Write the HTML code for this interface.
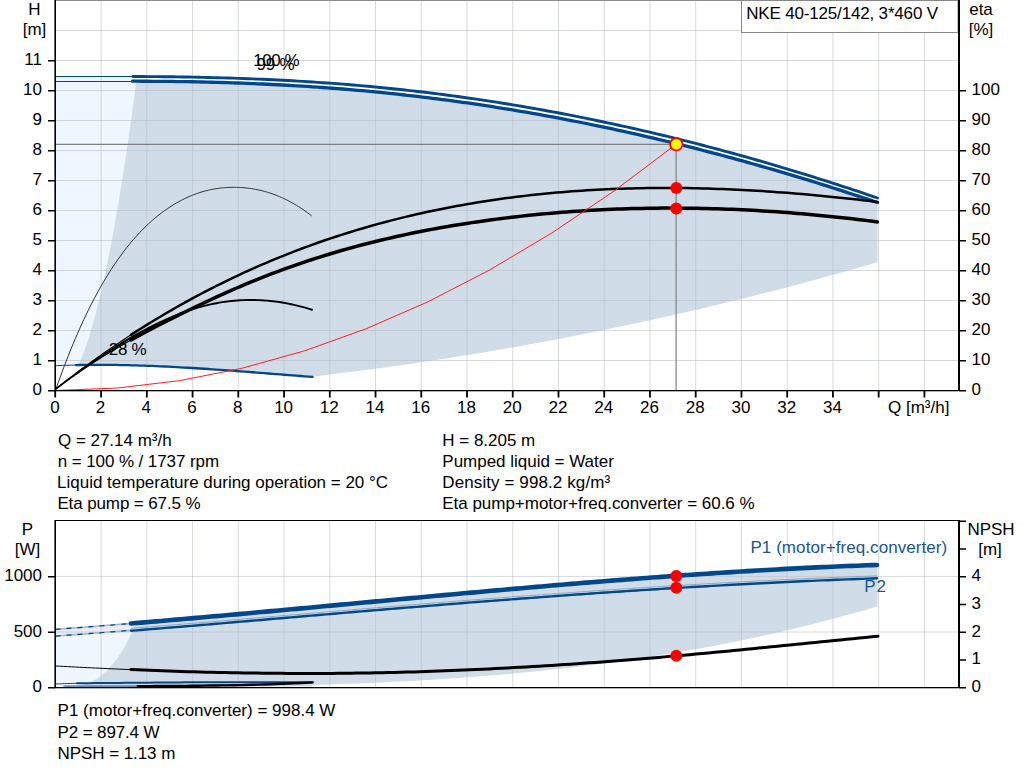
<!DOCTYPE html>
<html><head><meta charset="utf-8"><style>
html,body{margin:0;padding:0;background:#fff;width:1024px;height:781px;overflow:hidden}
svg{display:block}
.t{font-family:"Liberation Sans",sans-serif;font-size:17px;fill:#000}
</style></head><body>
<svg width="1024" height="781" viewBox="0 0 1024 781">
<path d="M55.50,77.08 L58.41,77.04 L61.33,77.00 L64.24,76.96 L67.16,76.92 L70.07,76.89 L72.98,76.85 L75.90,76.82 L78.81,76.79 L81.72,76.76 L84.64,76.73 L87.55,76.70 L90.47,76.68 L93.38,76.66 L96.29,76.64 L99.21,76.62 L102.12,76.60 L105.03,76.58 L107.95,76.57 L110.86,76.56 L113.78,76.55 L116.69,76.54 L119.60,76.54 L122.52,76.53 L125.43,76.53 L128.34,76.53 L131.26,76.54 L134.17,76.54 L137.09,76.55 L140.00,76.56 L140.00,365.53 L137.09,365.44 L134.17,365.36 L131.26,365.28 L128.34,365.21 L125.43,365.14 L122.52,365.08 L119.60,365.03 L116.69,364.98 L113.78,364.94 L110.86,364.91 L107.95,364.88 L105.03,364.86 L102.12,364.85 L99.21,364.84 L96.29,364.84 L93.38,364.85 L90.47,364.87 L87.55,364.90 L84.64,364.93 L81.72,364.97 L78.81,365.02 L75.90,365.08 L72.98,365.14 L70.07,365.21 L67.16,365.30 L64.24,365.39 L61.33,365.49 L58.41,365.60 L55.50,365.71Z" fill="#eff6ff"/>
<path d="M78.33,365.60 L81.48,358.32 L84.28,351.03 L86.84,343.75 L89.20,336.46 L91.41,329.18 L93.50,321.89 L95.47,314.61 L97.35,307.32 L99.15,300.04 L100.88,292.75 L102.55,285.47 L104.16,278.18 L105.72,270.90 L107.23,263.62 L108.70,256.33 L110.12,249.05 L111.52,241.76 L112.88,234.48 L114.20,227.19 L115.50,219.91 L116.77,212.62 L118.02,205.34 L119.24,198.05 L120.44,190.77 L121.61,183.48 L122.77,176.20 L123.91,168.92 L125.02,161.63 L126.12,154.35 L127.21,147.06 L128.27,139.78 L129.33,132.49 L130.36,125.21 L131.39,117.92 L132.39,110.64 L133.39,103.35 L134.37,96.07 L135.35,88.78 L136.31,81.50 L136.31,81.22 L142.53,81.23 L148.76,81.26 L154.99,81.29 L161.22,81.34 L167.45,81.40 L173.68,81.48 L179.91,81.56 L186.13,81.66 L192.36,81.77 L198.59,81.90 L204.82,82.04 L211.05,82.19 L217.28,82.35 L223.51,82.54 L229.73,82.73 L235.96,82.94 L242.19,83.17 L248.42,83.41 L254.65,83.66 L260.88,83.93 L267.10,84.22 L273.33,84.52 L279.56,84.84 L285.79,85.17 L292.02,85.52 L298.25,85.89 L304.48,86.28 L310.70,86.68 L316.93,87.10 L323.16,87.54 L329.39,87.99 L335.62,88.47 L341.85,88.96 L348.08,89.47 L354.30,90.00 L360.53,90.54 L366.76,91.11 L372.99,91.69 L379.22,92.30 L385.45,92.93 L391.68,93.57 L397.90,94.23 L404.13,94.92 L410.36,95.62 L416.59,96.35 L422.82,97.09 L429.05,97.85 L435.27,98.63 L441.50,99.43 L447.73,100.26 L453.96,101.10 L460.19,101.96 L466.42,102.84 L472.65,103.73 L478.87,104.65 L485.10,105.59 L491.33,106.55 L497.56,107.52 L503.79,108.52 L510.02,109.53 L516.25,110.57 L522.47,111.62 L528.70,112.69 L534.93,113.78 L541.16,114.89 L547.39,116.02 L553.62,117.17 L559.85,118.34 L566.07,119.53 L572.30,120.73 L578.53,121.96 L584.76,123.20 L590.99,124.46 L597.22,125.74 L603.45,127.04 L609.67,128.36 L615.90,129.70 L622.13,131.06 L628.36,132.43 L634.59,133.83 L640.82,135.24 L647.04,136.67 L653.27,138.12 L659.50,139.59 L665.73,141.08 L671.96,142.58 L678.19,144.11 L684.42,145.65 L690.64,147.21 L696.87,148.79 L703.10,150.39 L709.33,152.01 L715.56,153.64 L721.79,155.30 L728.02,156.97 L734.24,158.66 L740.47,160.37 L746.70,162.09 L752.93,163.84 L759.16,165.60 L765.39,167.38 L771.62,169.18 L777.84,171.00 L784.07,172.84 L790.30,174.69 L796.53,176.57 L802.76,178.46 L808.99,180.36 L815.21,182.29 L821.44,184.23 L827.67,186.20 L833.90,188.18 L840.13,190.18 L846.36,192.19 L852.59,194.23 L858.81,196.28 L865.04,198.35 L871.27,200.43 L877.50,202.54 L877.50,202.54 L877.50,262.36 L877.50,262.36 L867.92,265.12 L858.35,267.85 L848.77,270.55 L839.19,273.22 L829.62,275.87 L820.04,278.48 L810.47,281.07 L800.89,283.63 L791.31,286.16 L781.74,288.66 L772.16,291.14 L762.58,293.58 L753.01,296.00 L743.43,298.39 L733.86,300.75 L724.28,303.08 L714.70,305.39 L705.13,307.66 L695.55,309.91 L685.97,312.13 L676.40,314.32 L666.82,316.48 L657.25,318.61 L647.67,320.72 L638.09,322.80 L628.52,324.85 L618.94,326.87 L609.36,328.86 L599.79,330.82 L590.21,332.76 L580.64,334.66 L571.06,336.54 L561.48,338.39 L551.91,340.21 L542.33,342.01 L532.75,343.77 L523.18,345.51 L513.60,347.22 L504.03,348.89 L494.45,350.55 L484.87,352.17 L475.30,353.76 L465.72,355.33 L456.14,356.87 L446.57,358.38 L436.99,359.86 L427.42,361.31 L417.84,362.73 L408.26,364.13 L398.69,365.50 L389.11,366.84 L379.53,368.15 L369.96,369.43 L360.38,370.68 L350.81,371.91 L341.23,373.11 L331.65,374.28 L322.08,375.42 L312.50,376.53 L312.50,376.95 L306.50,376.49 L300.49,376.02 L294.49,375.55 L288.48,375.07 L282.48,374.60 L276.47,374.12 L270.47,373.65 L264.47,373.17 L258.46,372.70 L252.46,372.24 L246.45,371.77 L240.45,371.32 L234.44,370.87 L228.44,370.43 L222.44,370.00 L216.43,369.58 L210.43,369.17 L204.42,368.77 L198.42,368.38 L192.41,368.01 L186.41,367.66 L180.40,367.32 L174.40,366.99 L168.40,366.69 L162.39,366.40 L156.39,366.14 L150.38,365.90 L144.38,365.68 L138.37,365.48 L132.37,365.31 L126.37,365.16 L120.36,365.04 L114.36,364.95 L108.35,364.88 L102.35,364.85 L96.34,364.84 L90.34,364.87 L84.34,364.93 L78.33,365.03Z" fill="#d0dce8"/>
<path d="M55,360.5H958 M55,330.5H958 M55,300.5H958 M55,270.5H958 M55,240.5H958 M55,210.5H958 M55,180.5H958 M55,150.5H958 M55,120.5H958 M55,90.5H958 M55,60.5H958 M55,30.5H741 M101.09,0V390 M146.83,0V390 M192.57,0V390 M238.31,0V390 M284.05,0V390 M329.79,0V390 M375.53,0V390 M421.27,0V390 M467.01,0V390 M512.75,0V390 M558.49,0V390 M604.23,0V390 M649.97,0V390 M695.71,0V390 M741.45,33V390 M787.19,33V390 M832.93,33V390 M878.67,33V390 M924.41,33V390" stroke="rgba(185,192,200,0.6)" stroke-width="1" fill="none"/>
<path d="M55,0.5H958" stroke="#8c8c8c" stroke-width="1"/>
<rect x="741.5" y="0.5" width="216.5" height="32" fill="#fff" stroke="#888" stroke-width="1"/>
<text x="746.21" y="18.5" class="t" textLength="191.87" lengthAdjust="spacing">NKE 40-125/142, 3*460 V</text>
<path d="M55,144.3H676.1V390" stroke="#808080" stroke-width="1.2" fill="none"/>
<path d="M55.5,76.5H133" stroke="#03478b" stroke-width="1" fill="none"/>
<path d="M55.5,81.5H132" stroke="#03478b" stroke-width="1" fill="none"/>
<path d="M133.00,76.54 L138.00,76.55 L142.99,76.57 L147.99,76.60 L152.99,76.63 L157.98,76.67 L162.98,76.71 L167.98,76.76 L172.97,76.82 L177.97,76.89 L182.97,76.97 L187.96,77.05 L192.96,77.14 L197.96,77.24 L202.95,77.35 L207.95,77.46 L212.95,77.59 L217.94,77.72 L222.94,77.86 L227.94,78.01 L232.93,78.16 L237.93,78.33 L242.93,78.51 L247.92,78.69 L252.92,78.89 L257.92,79.09 L262.91,79.31 L267.91,79.53 L272.91,79.76 L277.90,80.01 L282.90,80.26 L287.90,80.53 L292.89,80.80 L297.89,81.09 L302.89,81.38 L307.88,81.69 L312.88,82.01 L317.88,82.34 L322.87,82.68 L327.87,83.03 L332.87,83.40 L337.86,83.77 L342.86,84.16 L347.86,84.56 L352.85,84.97 L357.85,85.39 L362.85,85.83 L367.84,86.28 L372.84,86.74 L377.84,87.21 L382.83,87.70 L387.83,88.20 L392.83,88.71 L397.82,89.24 L402.82,89.77 L407.82,90.33 L412.81,90.89 L417.81,91.47 L422.81,92.06 L427.80,92.66 L432.80,93.27 L437.80,93.90 L442.79,94.54 L447.79,95.20 L452.79,95.86 L457.78,96.54 L462.78,97.24 L467.78,97.94 L472.77,98.66 L477.77,99.39 L482.77,100.13 L487.76,100.89 L492.76,101.66 L497.76,102.44 L502.75,103.23 L507.75,104.04 L512.74,104.86 L517.74,105.69 L522.74,106.53 L527.73,107.39 L532.73,108.26 L537.73,109.14 L542.72,110.04 L547.72,110.95 L552.72,111.87 L557.71,112.80 L562.71,113.74 L567.71,114.70 L572.70,115.67 L577.70,116.65 L582.70,117.65 L587.69,118.66 L592.69,119.68 L597.69,120.71 L602.68,121.75 L607.68,122.81 L612.68,123.88 L617.67,124.96 L622.67,126.06 L627.67,127.16 L632.66,128.28 L637.66,129.41 L642.66,130.56 L647.65,131.71 L652.65,132.88 L657.65,134.06 L662.64,135.26 L667.64,136.46 L672.64,137.68 L677.63,138.91 L682.63,140.15 L687.63,141.40 L692.62,142.67 L697.62,143.95 L702.62,145.24 L707.61,146.54 L712.61,147.86 L717.61,149.19 L722.60,150.53 L727.60,151.88 L732.60,153.24 L737.59,154.62 L742.59,156.00 L747.59,157.40 L752.58,158.82 L757.58,160.24 L762.58,161.68 L767.57,163.12 L772.57,164.58 L777.57,166.06 L782.56,167.54 L787.56,169.04 L792.56,170.55 L797.55,172.07 L802.55,173.60 L807.55,175.14 L812.54,176.70 L817.54,178.27 L822.54,179.85 L827.53,181.44 L832.53,183.04 L837.53,184.66 L842.52,186.28 L847.52,187.92 L852.52,189.57 L857.51,191.24 L862.51,192.91 L867.51,194.60 L872.50,196.29 L877.50,198.00" stroke="#03478b" stroke-width="2.9" fill="none" stroke-linecap="round"/>
<path d="M132.50,81.22 L137.50,81.22 L142.50,81.23 L147.50,81.25 L152.50,81.28 L157.50,81.31 L162.50,81.35 L167.50,81.40 L172.50,81.46 L177.50,81.53 L182.50,81.60 L187.50,81.68 L192.50,81.77 L197.50,81.87 L202.50,81.98 L207.50,82.10 L212.50,82.23 L217.50,82.36 L222.50,82.51 L227.50,82.66 L232.50,82.82 L237.50,82.99 L242.50,83.18 L247.50,83.37 L252.50,83.57 L257.50,83.78 L262.50,84.00 L267.50,84.24 L272.50,84.48 L277.50,84.73 L282.50,84.99 L287.50,85.27 L292.50,85.55 L297.50,85.85 L302.50,86.15 L307.50,86.47 L312.50,86.80 L317.50,87.14 L322.50,87.49 L327.50,87.85 L332.50,88.23 L337.50,88.61 L342.50,89.01 L347.50,89.42 L352.50,89.84 L357.50,90.27 L362.50,90.72 L367.50,91.18 L372.50,91.65 L377.50,92.13 L382.50,92.63 L387.50,93.14 L392.50,93.66 L397.50,94.19 L402.50,94.74 L407.50,95.30 L412.50,95.87 L417.50,96.45 L422.50,97.05 L427.50,97.66 L432.50,98.28 L437.50,98.92 L442.50,99.56 L447.50,100.22 L452.50,100.90 L457.50,101.58 L462.50,102.28 L467.50,102.99 L472.50,103.71 L477.50,104.45 L482.50,105.20 L487.50,105.96 L492.50,106.73 L497.50,107.51 L502.50,108.31 L507.50,109.12 L512.50,109.94 L517.50,110.78 L522.50,111.62 L527.50,112.48 L532.50,113.35 L537.50,114.24 L542.50,115.13 L547.50,116.04 L552.50,116.96 L557.50,117.90 L562.50,118.84 L567.50,119.80 L572.50,120.77 L577.50,121.75 L582.50,122.75 L587.50,123.75 L592.50,124.77 L597.50,125.80 L602.50,126.84 L607.50,127.90 L612.50,128.97 L617.50,130.05 L622.50,131.14 L627.50,132.24 L632.50,133.36 L637.50,134.48 L642.50,135.62 L647.50,136.78 L652.50,137.94 L657.50,139.11 L662.50,140.30 L667.50,141.50 L672.50,142.71 L677.50,143.94 L682.50,145.17 L687.50,146.42 L692.50,147.68 L697.50,148.95 L702.50,150.23 L707.50,151.53 L712.50,152.84 L717.50,154.16 L722.50,155.49 L727.50,156.83 L732.50,158.18 L737.50,159.55 L742.50,160.93 L747.50,162.32 L752.50,163.72 L757.50,165.13 L762.50,166.56 L767.50,167.99 L772.50,169.44 L777.50,170.90 L782.50,172.37 L787.50,173.86 L792.50,175.35 L797.50,176.86 L802.50,178.38 L807.50,179.91 L812.50,181.45 L817.50,183.00 L822.50,184.57 L827.50,186.14 L832.50,187.73 L837.50,189.33 L842.50,190.94 L847.50,192.56 L852.50,194.20 L857.50,195.84 L862.50,197.50 L867.50,199.17 L872.50,200.85 L877.50,202.54" stroke="#03478b" stroke-width="3.3" fill="none" stroke-linecap="round"/>
<path d="M55.50,365.71 L57.78,365.62 L60.06,365.53 L62.33,365.45 L64.61,365.38 L66.89,365.30 L69.17,365.24 L71.44,365.18 L73.72,365.12 L76.00,365.07" stroke="#03478b" stroke-width="1" fill="none"/>
<path d="M76.00,365.07 L80.01,365.00 L84.02,364.94 L88.03,364.89 L92.03,364.86 L96.04,364.85 L100.05,364.84 L104.06,364.86 L108.07,364.88 L112.08,364.92 L116.08,364.97 L120.09,365.04 L124.10,365.11 L128.11,365.20 L132.12,365.30 L136.13,365.41 L140.14,365.54 L144.14,365.67 L148.15,365.81 L152.16,365.97 L156.17,366.13 L160.18,366.31 L164.19,366.49 L168.19,366.68 L172.20,366.88 L176.21,367.09 L180.22,367.31 L184.23,367.53 L188.24,367.76 L192.25,368.00 L196.25,368.25 L200.26,368.50 L204.27,368.76 L208.28,369.02 L212.29,369.29 L216.30,369.57 L220.31,369.85 L224.31,370.13 L228.32,370.42 L232.33,370.71 L236.34,371.01 L240.35,371.31 L244.36,371.61 L248.36,371.92 L252.37,372.23 L256.38,372.54 L260.39,372.85 L264.40,373.17 L268.41,373.48 L272.42,373.80 L276.42,374.12 L280.43,374.43 L284.44,374.75 L288.45,375.07 L292.46,375.39 L296.47,375.70 L300.47,376.02 L304.48,376.33 L308.49,376.64 L312.50,376.95" stroke="#03478b" stroke-width="2.3" fill="none" stroke-linecap="round"/>
<path d="M56.00,389.00 L58.15,382.88 L60.30,376.89 L62.44,371.04 L64.59,365.32 L66.74,359.73 L68.89,354.26 L71.04,348.92 L73.18,343.70 L75.33,338.60 L77.48,333.62 L79.63,328.76 L81.77,324.01 L83.92,319.37 L86.07,314.85 L88.22,310.43 L90.37,306.12 L92.51,301.91 L94.66,297.81 L96.81,293.81 L98.96,289.90 L101.11,286.10 L103.25,282.39 L105.40,278.77 L107.55,275.24 L109.70,271.80 L111.85,268.46 L113.99,265.20 L116.14,262.03 L118.29,258.94 L120.44,255.94 L122.58,253.02 L124.73,250.19 L126.88,247.43 L129.03,244.75 L131.18,242.15 L133.32,239.62 L135.47,237.17 L137.62,234.80 L139.77,232.49 L141.92,230.26 L144.06,228.09 L146.21,225.99 L148.36,223.96 L150.51,222.00 L152.66,220.09 L154.80,218.26 L156.95,216.48 L159.10,214.76 L161.25,213.10 L163.39,211.50 L165.54,209.95 L167.69,208.46 L169.84,207.03 L171.99,205.65 L174.13,204.33 L176.28,203.06 L178.43,201.85 L180.58,200.68 L182.73,199.58 L184.87,198.52 L187.02,197.51 L189.17,196.56 L191.32,195.66 L193.47,194.80 L195.61,194.00 L197.76,193.24 L199.91,192.53 L202.06,191.87 L204.21,191.26 L206.35,190.69 L208.50,190.17 L210.65,189.70 L212.80,189.27 L214.94,188.88 L217.09,188.54 L219.24,188.24 L221.39,187.98 L223.54,187.77 L225.68,187.60 L227.83,187.46 L229.98,187.37 L232.13,187.32 L234.28,187.31 L236.42,187.34 L238.57,187.40 L240.72,187.51 L242.87,187.65 L245.02,187.83 L247.16,188.05 L249.31,188.32 L251.46,188.62 L253.61,188.97 L255.75,189.36 L257.90,189.79 L260.05,190.26 L262.20,190.78 L264.35,191.34 L266.49,191.95 L268.64,192.60 L270.79,193.30 L272.94,194.04 L275.09,194.83 L277.23,195.67 L279.38,196.55 L281.53,197.48 L283.68,198.46 L285.83,199.49 L287.97,200.57 L290.12,201.70 L292.27,202.88 L294.42,204.11 L296.56,205.39 L298.71,206.73 L300.86,208.11 L303.01,209.55 L305.16,211.05 L307.30,212.59 L309.45,214.19 L311.60,215.85" stroke="#333" stroke-width="1" fill="none"/>
<path d="M55.50,388.94 L58.10,386.90 L60.71,384.86 L63.31,382.85 L65.91,380.84 L68.52,378.85 L71.12,376.87 L73.72,374.90 L76.33,372.95 L78.93,371.01 L81.53,369.08 L84.14,367.16 L86.74,365.26 L89.34,363.37 L91.95,361.49 L94.55,359.63 L97.16,357.78 L99.76,355.94 L102.36,354.11 L104.97,352.30 L107.57,350.50 L110.17,348.71 L112.78,346.94 L115.38,345.17 L117.98,343.42 L120.59,341.68 L123.19,339.96 L125.79,338.24 L128.40,336.54 L131.00,334.85" stroke="#000" stroke-width="1.2" fill="none"/>
<path d="M55.50,389.48 L58.10,387.47 L60.71,385.49 L63.31,383.53 L65.91,381.59 L68.52,379.68 L71.12,377.79 L73.72,375.93 L76.33,374.08 L78.93,372.27 L81.53,370.47 L84.14,368.69 L86.74,366.94 L89.34,365.21 L91.95,363.50 L94.55,361.80 L97.16,360.13 L99.76,358.48 L102.36,356.84 L104.97,355.22 L107.57,353.62 L110.17,352.04 L112.78,350.48 L115.38,348.93 L117.98,347.39 L120.59,345.88 L123.19,344.37 L125.79,342.89 L128.40,341.41 L131.00,339.95" stroke="#000" stroke-width="1.2" fill="none"/>
<path d="M55.50,389.09 L57.78,387.37 L60.06,385.65 L62.33,383.93 L64.61,382.23 L66.89,380.54 L69.17,378.86 L71.44,377.18 L73.72,375.52 L76.00,373.86" stroke="#000" stroke-width="1.2" fill="none"/>
<path d="M76.00,373.86 L78.99,371.71 L81.97,369.57 L84.96,367.46 L87.95,365.36 L90.94,363.28 L93.92,361.23 L96.91,359.19 L99.90,357.18 L102.89,355.19 L105.87,353.22 L108.86,351.28 L111.85,349.36 L114.84,347.46 L117.82,345.59 L120.81,343.74 L123.80,341.93 L126.78,340.13 L129.77,338.37 L132.76,336.63 L135.75,334.92 L138.73,333.25 L141.72,331.60 L144.71,329.98 L147.70,328.40 L150.68,326.85 L153.67,325.34 L156.66,323.86 L159.65,322.41 L162.63,321.01 L165.62,319.64 L168.61,318.32 L171.59,317.03 L174.58,315.78 L177.57,314.58 L180.56,313.42 L183.54,312.31 L186.53,311.24 L189.52,310.22 L192.51,309.24 L195.49,308.31 L198.48,307.44 L201.47,306.61 L204.46,305.83 L207.44,305.10 L210.43,304.42 L213.42,303.78 L216.41,303.20 L219.39,302.67 L222.38,302.18 L225.37,301.74 L228.35,301.35 L231.34,301.01 L234.33,300.72 L237.32,300.48 L240.30,300.28 L243.29,300.13 L246.28,300.03 L249.27,299.98 L252.25,299.97 L255.24,300.02 L258.23,300.11 L261.22,300.25 L264.20,300.43 L267.19,300.66 L270.18,300.94 L273.16,301.27 L276.15,301.64 L279.14,302.06 L282.13,302.53 L285.11,303.05 L288.10,303.61 L291.09,304.21 L294.08,304.87 L297.06,305.57 L300.05,306.31 L303.04,307.11 L306.03,307.95 L309.01,308.83 L312.00,309.76" stroke="#000" stroke-width="1.9" fill="none" stroke-linecap="round"/>
<path d="M131.00,334.85 L136.01,331.63 L141.02,328.46 L146.03,325.33 L151.04,322.24 L156.05,319.20 L161.06,316.20 L166.07,313.25 L171.08,310.34 L176.09,307.47 L181.10,304.64 L186.11,301.86 L191.12,299.11 L196.13,296.41 L201.14,293.75 L206.15,291.13 L211.16,288.55 L216.17,286.01 L221.18,283.52 L226.19,281.06 L231.20,278.64 L236.21,276.26 L241.22,273.92 L246.23,271.61 L251.24,269.35 L256.25,267.12 L261.26,264.94 L266.27,262.79 L271.28,260.67 L276.29,258.60 L281.30,256.56 L286.31,254.55 L291.32,252.59 L296.33,250.65 L301.34,248.76 L306.35,246.90 L311.36,245.07 L316.37,243.28 L321.38,241.52 L326.39,239.80 L331.40,238.11 L336.41,236.46 L341.42,234.84 L346.43,233.25 L351.44,231.69 L356.45,230.17 L361.46,228.68 L366.47,227.22 L371.48,225.79 L376.49,224.39 L381.50,223.02 L386.51,221.69 L391.52,220.38 L396.53,219.11 L401.54,217.86 L406.55,216.65 L411.56,215.46 L416.57,214.31 L421.58,213.18 L426.59,212.08 L431.60,211.00 L436.61,209.96 L441.62,208.94 L446.63,207.96 L451.64,206.99 L456.65,206.06 L461.66,205.15 L466.67,204.27 L471.68,203.41 L476.69,202.58 L481.70,201.77 L486.71,200.99 L491.72,200.23 L496.73,199.50 L501.74,198.80 L506.76,198.11 L511.77,197.45 L516.78,196.82 L521.79,196.21 L526.80,195.62 L531.81,195.06 L536.82,194.51 L541.83,194.00 L546.84,193.50 L551.85,193.03 L556.86,192.58 L561.87,192.15 L566.88,191.74 L571.89,191.36 L576.90,190.99 L581.91,190.65 L586.92,190.33 L591.93,190.03 L596.94,189.75 L601.95,189.50 L606.96,189.26 L611.97,189.04 L616.98,188.85 L621.99,188.67 L627.00,188.51 L632.01,188.38 L637.02,188.26 L642.03,188.16 L647.04,188.08 L652.05,188.02 L657.06,187.98 L662.07,187.96 L667.08,187.95 L672.09,187.97 L677.10,188.00 L682.11,188.05 L687.12,188.11 L692.13,188.20 L697.14,188.30 L702.15,188.42 L707.16,188.55 L712.17,188.71 L717.18,188.88 L722.19,189.06 L727.20,189.26 L732.21,189.48 L737.22,189.71 L742.23,189.96 L747.24,190.23 L752.25,190.51 L757.26,190.80 L762.27,191.11 L767.28,191.43 L772.29,191.77 L777.30,192.13 L782.31,192.49 L787.32,192.87 L792.33,193.27 L797.34,193.68 L802.35,194.10 L807.36,194.54 L812.37,194.98 L817.38,195.44 L822.39,195.92 L827.40,196.40 L832.41,196.90 L837.42,197.41 L842.43,197.94 L847.44,198.47 L852.45,199.02 L857.46,199.57 L862.47,200.14 L867.48,200.72 L872.49,201.31 L877.50,201.91" stroke="#000" stroke-width="2.5" fill="none" stroke-linecap="round"/>
<path d="M131.00,339.95 L136.01,337.18 L141.02,334.45 L146.03,331.77 L151.04,329.12 L156.05,326.52 L161.06,323.94 L166.07,321.40 L171.08,318.88 L176.09,316.38 L181.10,313.91 L186.11,311.45 L191.12,309.02 L196.13,306.61 L201.14,304.21 L206.15,301.85 L211.16,299.51 L216.17,297.19 L221.18,294.91 L226.19,292.65 L231.20,290.43 L236.21,288.24 L241.22,286.08 L246.23,283.96 L251.24,281.88 L256.25,279.83 L261.26,277.82 L266.27,275.85 L271.28,273.92 L276.29,272.03 L281.30,270.17 L286.31,268.34 L291.32,266.56 L296.33,264.80 L301.34,263.08 L306.35,261.40 L311.36,259.75 L316.37,258.14 L321.38,256.55 L326.39,255.00 L331.40,253.49 L336.41,252.00 L341.42,250.55 L346.43,249.13 L351.44,247.74 L356.45,246.38 L361.46,245.05 L366.47,243.75 L371.48,242.48 L376.49,241.23 L381.50,240.02 L386.51,238.84 L391.52,237.68 L396.53,236.55 L401.54,235.45 L406.55,234.37 L411.56,233.32 L416.57,232.30 L421.58,231.30 L426.59,230.33 L431.60,229.38 L436.61,228.45 L441.62,227.55 L446.63,226.68 L451.64,225.83 L456.65,225.00 L461.66,224.19 L466.67,223.40 L471.68,222.64 L476.69,221.90 L481.70,221.17 L486.71,220.47 L491.72,219.79 L496.73,219.13 L501.74,218.49 L506.76,217.87 L511.77,217.27 L516.78,216.69 L521.79,216.13 L526.80,215.59 L531.81,215.06 L536.82,214.56 L541.83,214.08 L546.84,213.62 L551.85,213.17 L556.86,212.75 L561.87,212.34 L566.88,211.95 L571.89,211.59 L576.90,211.24 L581.91,210.91 L586.92,210.60 L591.93,210.30 L596.94,210.03 L601.95,209.77 L606.96,209.54 L611.97,209.32 L616.98,209.12 L621.99,208.93 L627.00,208.77 L632.01,208.62 L637.02,208.50 L642.03,208.39 L647.04,208.29 L652.05,208.22 L657.06,208.16 L662.07,208.12 L667.08,208.10 L672.09,208.09 L677.10,208.11 L682.11,208.14 L687.12,208.18 L692.13,208.25 L697.14,208.33 L702.15,208.42 L707.16,208.54 L712.17,208.67 L717.18,208.82 L722.19,208.98 L727.20,209.16 L732.21,209.36 L737.22,209.58 L742.23,209.81 L747.24,210.05 L752.25,210.32 L757.26,210.59 L762.27,210.89 L767.28,211.20 L772.29,211.53 L777.30,211.87 L782.31,212.23 L787.32,212.60 L792.33,212.99 L797.34,213.39 L802.35,213.81 L807.36,214.25 L812.37,214.70 L817.38,215.16 L822.39,215.64 L827.40,216.14 L832.41,216.65 L837.42,217.17 L842.43,217.71 L847.44,218.27 L852.45,218.84 L857.46,219.42 L862.47,220.02 L867.48,220.63 L872.49,221.25 L877.50,221.89" stroke="#000" stroke-width="3.5" fill="none" stroke-linecap="round"/>
<path d="M55.35,390.50 L117.42,388.04 L179.49,380.65 L241.56,368.35 L303.63,351.11 L365.70,328.96 L427.77,301.88 L489.83,269.88 L551.90,232.95 L613.97,191.11 L676.04,144.34" stroke="#ff2020" stroke-width="1" fill="none"/>
<text x="253.21" y="65.6" class="t" textLength="46.40" lengthAdjust="spacing">100 %</text>
<text x="256.60" y="70.4" class="t" textLength="38.00" lengthAdjust="spacing">99 %</text>
<text x="108.85" y="354.8" class="t" textLength="37.66" lengthAdjust="spacing">28 %</text>
<circle cx="676.3" cy="144.2" r="6.2" fill="#ffff00" stroke="#ff0000" stroke-width="1.8"/>
<circle cx="676.3" cy="187.9" r="6" fill="#ff0000"/>
<circle cx="676.3" cy="208.4" r="6" fill="#ff0000"/>
<rect x="54.4" y="0" width="1.6" height="391.3" fill="#000"/>
<rect x="54.4" y="390" width="904" height="1.3" fill="#000"/>
<rect x="958" y="0" width="2" height="391" fill="#000"/>
<path d="M48,390.8H55 M48,360.8H55 M48,330.8H55 M48,300.8H55 M48,270.8H55 M48,240.8H55 M48,210.8H55 M48,180.8H55 M48,150.8H55 M48,120.8H55 M48,90.8H55 M48,60.8H55 M959,390.8H966 M959,360.8H966 M959,330.8H966 M959,300.8H966 M959,270.8H966 M959,240.8H966 M959,210.8H966 M959,180.8H966 M959,150.8H966 M959,120.8H966 M959,90.8H966" stroke="#000" stroke-width="1.6" fill="none"/>
<path d="M55.20,391V397.5 M101.09,391V397.5 M146.83,391V397.5 M192.57,391V397.5 M238.31,391V397.5 M284.05,391V397.5 M329.79,391V397.5 M375.53,391V397.5 M421.27,391V397.5 M467.01,391V397.5 M512.75,391V397.5 M558.49,391V397.5 M604.23,391V397.5 M649.97,391V397.5 M695.71,391V397.5 M741.45,391V397.5 M787.19,391V397.5 M832.93,391V397.5 M878.67,391V397.5 M924.41,391V397.5" stroke="#000" stroke-width="1.8" fill="none"/>
<text x="42" y="395.1" class="t" text-anchor="end">0</text>
<text x="42" y="365.1" class="t" text-anchor="end">1</text>
<text x="42" y="335.1" class="t" text-anchor="end">2</text>
<text x="42" y="305.1" class="t" text-anchor="end">3</text>
<text x="42" y="275.1" class="t" text-anchor="end">4</text>
<text x="42" y="245.1" class="t" text-anchor="end">5</text>
<text x="42" y="215.1" class="t" text-anchor="end">6</text>
<text x="42" y="185.1" class="t" text-anchor="end">7</text>
<text x="42" y="155.1" class="t" text-anchor="end">8</text>
<text x="42" y="125.1" class="t" text-anchor="end">9</text>
<text x="42" y="95.1" class="t" text-anchor="end">10</text>
<text x="42" y="65.1" class="t" text-anchor="end">11</text>
<text x="971.5" y="395.1" class="t">0</text>
<text x="971.5" y="365.1" class="t">10</text>
<text x="971.5" y="335.1" class="t">20</text>
<text x="971.5" y="305.1" class="t">30</text>
<text x="971.5" y="275.1" class="t">40</text>
<text x="971.5" y="245.1" class="t">50</text>
<text x="971.5" y="215.1" class="t">60</text>
<text x="971.5" y="185.1" class="t">70</text>
<text x="971.5" y="155.1" class="t">80</text>
<text x="971.5" y="125.1" class="t">90</text>
<text x="971.5" y="95.1" class="t">100</text>
<text x="54.9" y="413" class="t" text-anchor="middle">0</text>
<text x="100.6" y="413" class="t" text-anchor="middle">2</text>
<text x="146.3" y="413" class="t" text-anchor="middle">4</text>
<text x="192.1" y="413" class="t" text-anchor="middle">6</text>
<text x="237.8" y="413" class="t" text-anchor="middle">8</text>
<text x="283.6" y="413" class="t" text-anchor="middle">10</text>
<text x="329.3" y="413" class="t" text-anchor="middle">12</text>
<text x="375.0" y="413" class="t" text-anchor="middle">14</text>
<text x="420.8" y="413" class="t" text-anchor="middle">16</text>
<text x="466.5" y="413" class="t" text-anchor="middle">18</text>
<text x="512.2" y="413" class="t" text-anchor="middle">20</text>
<text x="558.0" y="413" class="t" text-anchor="middle">22</text>
<text x="603.7" y="413" class="t" text-anchor="middle">24</text>
<text x="649.5" y="413" class="t" text-anchor="middle">26</text>
<text x="695.2" y="413" class="t" text-anchor="middle">28</text>
<text x="741.0" y="413" class="t" text-anchor="middle">30</text>
<text x="786.7" y="413" class="t" text-anchor="middle">32</text>
<text x="832.4" y="413" class="t" text-anchor="middle">34</text>
<text x="888" y="413" class="t">Q [m³/h]</text>
<text x="34.5" y="15" class="t" text-anchor="middle">H</text>
<text x="34.5" y="35" class="t" text-anchor="middle">[m]</text>
<text x="981" y="15" class="t" text-anchor="middle">eta</text>
<text x="981" y="35" class="t" text-anchor="middle">[%]</text>
<text x="57.99" y="446" class="t" textLength="113.61" lengthAdjust="spacing">Q = 27.14 m³/h</text>
<text x="57.67" y="467" class="t" textLength="161.45" lengthAdjust="spacing">n = 100 % / 1737 rpm</text>
<text x="57.11" y="488.3" class="t" textLength="330.94" lengthAdjust="spacing">Liquid temperature during operation = 20 °C</text>
<text x="57.41" y="509" class="t" textLength="143.20" lengthAdjust="spacing">Eta pump = 67.5 %</text>
<text x="442.31" y="446" class="t" textLength="92.92" lengthAdjust="spacing">H = 8.205 m</text>
<text x="442.31" y="467" class="t" textLength="171.58" lengthAdjust="spacing">Pumped liquid = Water</text>
<text x="442.31" y="488.3" class="t" textLength="167.83" lengthAdjust="spacing">Density = 998.2 kg/m³</text>
<text x="442.31" y="509" class="t" textLength="312.30" lengthAdjust="spacing">Eta pump+motor+freq.converter = 60.6 %</text>
<text x="57.61" y="716" class="t" textLength="277.75" lengthAdjust="spacing">P1 (motor+freq.converter) = 998.4 W</text>
<text x="57.61" y="737.5" class="t" textLength="101.95" lengthAdjust="spacing">P2 = 897.4 W</text>
<text x="57.61" y="759" class="t" textLength="117.72" lengthAdjust="spacing">NPSH = 1.13 m</text>
<path d="M55.50,636.06 L58.28,635.86 L61.05,635.66 L63.83,635.46 L66.60,635.26 L69.38,635.06 L72.16,634.85 L74.93,634.65 L77.71,634.44 L80.48,634.24 L83.26,634.03 L86.03,633.82 L88.81,633.61 L91.59,633.40 L94.36,633.19 L97.14,632.98 L99.91,632.77 L102.69,632.56 L105.47,632.34 L108.24,632.13 L111.02,631.91 L113.79,631.70 L116.57,631.48 L119.34,631.27 L122.12,631.05 L124.90,630.83 L127.67,630.61 L130.45,630.39 L133.22,630.17 L136.00,629.95 L136.00,686.50 L55.50,686.50Z" fill="#eff6ff"/>
<path d="M55.50,629.35 L58.28,629.15 L61.05,628.94 L63.83,628.73 L66.60,628.53 L69.38,628.32 L72.16,628.11 L74.93,627.90 L77.71,627.69 L80.48,627.47 L83.26,627.26 L86.03,627.05 L88.81,626.83 L91.59,626.61 L94.36,626.40 L97.14,626.18 L99.91,625.96 L102.69,625.74 L105.47,625.52 L108.24,625.30 L111.02,625.08 L113.79,624.85 L116.57,624.63 L119.34,624.40 L122.12,624.18 L124.90,623.95 L127.67,623.72 L130.45,623.50 L133.22,623.27 L136.00,623.04 L136.00,629.95 L133.22,630.17 L130.45,630.39 L127.67,630.61 L124.90,630.83 L122.12,631.05 L119.34,631.27 L116.57,631.48 L113.79,631.70 L111.02,631.91 L108.24,632.13 L105.47,632.34 L102.69,632.56 L99.91,632.77 L97.14,632.98 L94.36,633.19 L91.59,633.40 L88.81,633.61 L86.03,633.82 L83.26,634.03 L80.48,634.24 L77.71,634.44 L74.93,634.65 L72.16,634.85 L69.38,635.06 L66.60,635.26 L63.83,635.46 L61.05,635.66 L58.28,635.86 L55.50,636.06Z" fill="#e8edf3"/>
<path d="M77.08,686.50 L77.08,686.24 L78.59,685.96 L80.10,685.64 L81.61,685.27 L83.12,684.87 L84.63,684.41 L86.14,683.91 L87.65,683.36 L89.16,682.75 L90.67,682.08 L92.18,681.36 L93.69,680.57 L95.20,679.72 L96.71,678.80 L98.22,677.81 L99.73,676.75 L101.24,675.61 L102.75,674.40 L104.26,673.11 L105.77,671.73 L107.28,670.27 L108.79,668.73 L110.30,667.09 L111.81,665.36 L113.32,663.54 L114.83,661.61 L116.34,659.59 L117.85,657.47 L119.36,655.24 L120.87,652.90 L122.38,650.45 L123.89,647.89 L125.40,645.21 L126.91,642.42 L128.41,639.51 L129.92,636.47 L131.43,633.31 L132.94,630.02 L134.45,626.59 L135.96,623.04 L136.00,623.04 L142.23,622.52 L148.46,622.00 L154.69,621.48 L160.92,620.95 L167.16,620.42 L173.39,619.88 L179.62,619.34 L185.85,618.80 L192.08,618.26 L198.31,617.71 L204.54,617.16 L210.77,616.61 L217.00,616.06 L223.24,615.50 L229.47,614.94 L235.70,614.38 L241.93,613.82 L248.16,613.26 L254.39,612.69 L260.62,612.12 L266.85,611.55 L273.08,610.98 L279.32,610.41 L285.55,609.83 L291.78,609.26 L298.01,608.68 L304.24,608.11 L310.47,607.53 L316.70,606.95 L322.93,606.37 L329.16,605.79 L335.39,605.21 L341.63,604.63 L347.86,604.05 L354.09,603.46 L360.32,602.88 L366.55,602.30 L372.78,601.72 L379.01,601.14 L385.24,600.56 L391.47,599.98 L397.71,599.40 L403.94,598.82 L410.17,598.24 L416.40,597.67 L422.63,597.09 L428.86,596.52 L435.09,595.94 L441.32,595.37 L447.55,594.80 L453.79,594.23 L460.02,593.66 L466.25,593.10 L472.48,592.53 L478.71,591.97 L484.94,591.41 L491.17,590.85 L497.40,590.30 L503.63,589.75 L509.87,589.20 L516.10,588.65 L522.33,588.10 L528.56,587.56 L534.79,587.02 L541.02,586.48 L547.25,585.95 L553.48,585.42 L559.71,584.89 L565.95,584.37 L572.18,583.85 L578.41,583.33 L584.64,582.82 L590.87,582.31 L597.10,581.81 L603.33,581.31 L609.56,580.81 L615.79,580.32 L622.03,579.83 L628.26,579.35 L634.49,578.87 L640.72,578.40 L646.95,577.93 L653.18,577.47 L659.41,577.01 L665.64,576.55 L671.87,576.10 L678.11,575.66 L684.34,575.22 L690.57,574.79 L696.80,574.36 L703.03,573.94 L709.26,573.53 L715.49,573.12 L721.72,572.72 L727.95,572.32 L734.18,571.93 L740.42,571.55 L746.65,571.17 L752.88,570.80 L759.11,570.43 L765.34,570.08 L771.57,569.73 L777.80,569.38 L784.03,569.05 L790.26,568.72 L796.50,568.40 L802.73,568.08 L808.96,567.77 L815.19,567.48 L821.42,567.18 L827.65,566.90 L833.88,566.63 L840.11,566.36 L846.34,566.10 L852.58,565.85 L858.81,565.61 L865.04,565.37 L871.27,565.15 L877.50,564.93 L877.50,606.00 L878.67,606.00 L867.11,609.38 L855.56,612.67 L844.00,615.87 L832.44,618.97 L820.89,621.98 L809.33,624.91 L797.78,627.74 L786.22,630.49 L774.66,633.15 L763.11,635.73 L751.55,638.22 L739.99,640.64 L728.44,642.97 L716.88,645.22 L705.32,647.40 L693.77,649.50 L682.21,651.53 L670.66,653.48 L659.10,655.36 L647.54,657.17 L635.99,658.91 L624.43,660.59 L612.87,662.19 L601.32,663.73 L589.76,665.21 L578.20,666.63 L566.65,667.98 L555.09,669.27 L543.54,670.51 L531.98,671.69 L520.42,672.81 L508.87,673.88 L497.31,674.89 L485.75,675.86 L474.20,676.77 L462.64,677.63 L451.09,678.45 L439.53,679.22 L427.97,679.94 L416.42,680.63 L404.86,681.27 L393.30,681.86 L381.75,682.42 L370.19,682.94 L358.63,683.43 L347.08,683.87 L335.52,684.29 L323.97,684.67 L312.41,685.02 L312.41,686.50Z" fill="#d0dce8"/>
<path d="M55,632.0H958 M55,576.4H958 M101.09,520V687 M146.83,520V687 M192.57,520V687 M238.31,520V687 M284.05,520V687 M329.79,520V687 M375.53,520V687 M421.27,520V687 M467.01,520V687 M512.75,520V687 M558.49,520V687 M604.23,520V687 M649.97,520V687 M695.71,520V687 M741.45,520V687 M787.19,520V687 M832.93,520V687 M878.67,520V687 M924.41,520V687" stroke="rgba(185,192,200,0.6)" stroke-width="1" fill="none"/>
<path d="M55.50,665.96 L59.47,666.18 L63.45,666.40 L67.42,666.61 L71.39,666.82 L75.37,667.02 L79.34,667.23 L83.32,667.43 L87.29,667.63 L91.26,667.82 L95.24,668.01 L99.21,668.20 L103.18,668.39 L107.16,668.58 L111.13,668.76 L115.11,668.93 L119.08,669.11 L123.05,669.28 L127.03,669.45 L131.00,669.62" stroke="#000" stroke-width="1" fill="none"/>
<path d="M131.00,669.62 L137.28,669.87 L143.55,670.12 L149.83,670.36 L156.11,670.59 L162.39,670.82 L168.66,671.03 L174.94,671.24 L181.22,671.44 L187.50,671.63 L193.77,671.81 L200.05,671.98 L206.33,672.14 L212.61,672.30 L218.88,672.44 L225.16,672.58 L231.44,672.71 L237.71,672.82 L243.99,672.93 L250.27,673.03 L256.55,673.12 L262.82,673.20 L269.10,673.26 L275.38,673.32 L281.66,673.37 L287.93,673.41 L294.21,673.44 L300.49,673.45 L306.76,673.46 L313.04,673.46 L319.32,673.44 L325.60,673.41 L331.87,673.38 L338.15,673.33 L344.43,673.27 L350.71,673.20 L356.98,673.12 L363.26,673.03 L369.54,672.92 L375.82,672.81 L382.09,672.68 L388.37,672.54 L394.65,672.39 L400.92,672.23 L407.20,672.06 L413.48,671.88 L419.76,671.69 L426.03,671.49 L432.31,671.28 L438.59,671.06 L444.87,670.82 L451.14,670.58 L457.42,670.33 L463.70,670.06 L469.97,669.79 L476.25,669.51 L482.53,669.22 L488.81,668.91 L495.08,668.60 L501.36,668.28 L507.64,667.95 L513.92,667.61 L520.19,667.26 L526.47,666.90 L532.75,666.54 L539.03,666.16 L545.30,665.78 L551.58,665.38 L557.86,664.98 L564.13,664.57 L570.41,664.15 L576.69,663.72 L582.97,663.28 L589.24,662.84 L595.52,662.39 L601.80,661.93 L608.08,661.46 L614.35,660.98 L620.63,660.49 L626.91,660.00 L633.18,659.50 L639.46,658.99 L645.74,658.48 L652.02,657.95 L658.29,657.42 L664.57,656.88 L670.85,656.34 L677.13,655.79 L683.40,655.23 L689.68,654.66 L695.96,654.09 L702.24,653.51 L708.51,652.93 L714.79,652.34 L721.07,651.74 L727.34,651.14 L733.62,650.54 L739.90,649.93 L746.18,649.32 L752.45,648.70 L758.73,648.09 L765.01,647.46 L771.29,646.84 L777.56,646.21 L783.84,645.59 L790.12,644.96 L796.39,644.33 L802.67,643.70 L808.95,643.06 L815.23,642.43 L821.50,641.80 L827.78,641.17 L834.06,640.54 L840.34,639.91 L846.61,639.28 L852.89,638.65 L859.17,638.02 L865.45,637.40 L871.72,636.78 L878.00,636.16" stroke="#000" stroke-width="3" fill="none" stroke-linecap="round"/>
<path d="M55.50,684.00 L58.57,683.88 L61.64,683.75 L64.71,683.64 L67.79,683.53 L70.86,683.43 L73.93,683.35 L77.00,683.30" stroke="#03478b" stroke-width="1" fill="none"/>
<path d="M77.00,683.30 L83.04,683.21 L89.08,683.13 L95.12,683.07 L101.15,683.02 L107.19,682.97 L113.23,682.92 L119.27,682.88 L125.31,682.84 L131.35,682.80 L137.38,682.75 L143.42,682.70 L149.46,682.65 L155.50,682.60 L161.54,682.56 L167.58,682.51 L173.62,682.46 L179.65,682.41 L185.69,682.37 L191.73,682.33 L197.77,682.30 L203.81,682.27 L209.85,682.24 L215.88,682.22 L221.92,682.21 L227.96,682.20 L234.00,682.20 L240.04,682.20 L246.08,682.20 L252.12,682.20 L258.15,682.20 L264.19,682.20 L270.23,682.20 L276.27,682.20 L282.31,682.20 L288.35,682.20 L294.38,682.20 L300.42,682.20 L306.46,682.20 L312.50,682.20" stroke="#03478b" stroke-width="2" fill="none" stroke-linecap="round"/>
<path d="M63.5,686.2 L137.5,686.2" stroke="#03478b" stroke-width="1.3" fill="none" opacity="0.8"/>
<path d="M137.5,686.2 L312,683.4" stroke="#7f9cbd" stroke-width="1" fill="none"/>
<path d="M137.80,686.10 L143.83,686.10 L149.86,686.08 L155.88,686.06 L161.91,686.03 L167.94,685.99 L173.97,685.95 L179.99,685.90 L186.02,685.84 L192.05,685.78 L198.08,685.71 L204.10,685.64 L210.13,685.57 L216.16,685.49 L222.19,685.41 L228.21,685.33 L234.24,685.23 L240.27,685.12 L246.30,684.98 L252.32,684.82 L258.35,684.64 L264.38,684.44 L270.41,684.23 L276.43,684.00 L282.46,683.76 L288.49,683.50 L294.52,683.24 L300.54,682.96 L306.57,682.68 L312.60,682.40" stroke="#000" stroke-width="2.4" fill="none" stroke-linecap="round"/>
<path d="M55.50,629.35 L59.47,629.06 L63.45,628.76 L67.42,628.47 L71.39,628.17 L75.37,627.86 L79.34,627.56 L83.32,627.26 L87.29,626.95 L91.26,626.64 L95.24,626.33 L99.21,626.02 L103.18,625.70 L107.16,625.38 L111.13,625.07 L115.11,624.75 L119.08,624.43 L123.05,624.10 L127.03,623.78 L131.00,623.45" stroke="#a9b9cc" stroke-width="1.7" fill="none"/>
<path d="M55.50,636.06 L59.47,635.78 L63.45,635.49 L67.42,635.20 L71.39,634.91 L75.37,634.62 L79.34,634.32 L83.32,634.03 L87.29,633.73 L91.26,633.43 L95.24,633.13 L99.21,632.82 L103.18,632.52 L107.16,632.21 L111.13,631.91 L115.11,631.60 L119.08,631.29 L123.05,630.97 L127.03,630.66 L131.00,630.35" stroke="#a9b9cc" stroke-width="1.7" fill="none"/>
<path d="M55.50,629.35 L59.47,629.06 L63.45,628.76 L67.42,628.47 L71.39,628.17 L75.37,627.86 L79.34,627.56 L83.32,627.26 L87.29,626.95 L91.26,626.64 L95.24,626.33 L99.21,626.02 L103.18,625.70 L107.16,625.38 L111.13,625.07 L115.11,624.75 L119.08,624.43 L123.05,624.10 L127.03,623.78 L131.00,623.45" stroke="#03478b" stroke-width="1.2" fill="none" stroke-dasharray="5,6"/>
<path d="M55.50,636.06 L59.47,635.78 L63.45,635.49 L67.42,635.20 L71.39,634.91 L75.37,634.62 L79.34,634.32 L83.32,634.03 L87.29,633.73 L91.26,633.43 L95.24,633.13 L99.21,632.82 L103.18,632.52 L107.16,632.21 L111.13,631.91 L115.11,631.60 L119.08,631.29 L123.05,630.97 L127.03,630.66 L131.00,630.35" stroke="#03478b" stroke-width="1.2" fill="none" stroke-dasharray="5,6"/>
<path d="M131.00,623.45 L136.01,623.04 L141.01,622.62 L146.02,622.20 L151.03,621.78 L156.03,621.36 L161.04,620.94 L166.05,620.51 L171.05,620.08 L176.06,619.65 L181.07,619.22 L186.07,618.78 L191.08,618.35 L196.09,617.91 L201.09,617.47 L206.10,617.03 L211.11,616.58 L216.11,616.14 L221.12,615.69 L226.13,615.24 L231.13,614.79 L236.14,614.34 L241.15,613.89 L246.15,613.44 L251.16,612.98 L256.17,612.53 L261.17,612.07 L266.18,611.61 L271.19,611.15 L276.19,610.69 L281.20,610.23 L286.21,609.77 L291.21,609.31 L296.22,608.85 L301.23,608.38 L306.23,607.92 L311.24,607.46 L316.25,606.99 L321.26,606.52 L326.26,606.06 L331.27,605.59 L336.28,605.13 L341.28,604.66 L346.29,604.19 L351.30,603.72 L356.30,603.26 L361.31,602.79 L366.32,602.32 L371.32,601.86 L376.33,601.39 L381.34,600.92 L386.34,600.46 L391.35,599.99 L396.36,599.53 L401.36,599.06 L406.37,598.60 L411.38,598.13 L416.38,597.67 L421.39,597.21 L426.40,596.74 L431.40,596.28 L436.41,595.82 L441.42,595.36 L446.42,594.90 L451.43,594.45 L456.44,593.99 L461.44,593.53 L466.45,593.08 L471.46,592.63 L476.46,592.17 L481.47,591.72 L486.48,591.27 L491.48,590.83 L496.49,590.38 L501.50,589.94 L506.50,589.49 L511.51,589.05 L516.52,588.61 L521.52,588.17 L526.53,587.74 L531.54,587.30 L536.54,586.87 L541.55,586.44 L546.56,586.01 L551.56,585.58 L556.57,585.16 L561.58,584.74 L566.58,584.32 L571.59,583.90 L576.60,583.48 L581.60,583.07 L586.61,582.66 L591.62,582.25 L596.62,581.85 L601.63,581.45 L606.64,581.05 L611.64,580.65 L616.65,580.25 L621.66,579.86 L626.66,579.47 L631.67,579.09 L636.68,578.71 L641.68,578.33 L646.69,577.95 L651.70,577.58 L656.70,577.21 L661.71,576.84 L666.72,576.48 L671.72,576.12 L676.73,575.76 L681.74,575.41 L686.74,575.06 L691.75,574.71 L696.76,574.37 L701.77,574.03 L706.77,573.69 L711.78,573.36 L716.79,573.04 L721.79,572.71 L726.80,572.39 L731.81,572.08 L736.81,571.77 L741.82,571.46 L746.83,571.16 L751.83,570.86 L756.84,570.57 L761.85,570.28 L766.85,569.99 L771.86,569.71 L776.87,569.43 L781.87,569.16 L786.88,568.90 L791.89,568.63 L796.89,568.38 L801.90,568.12 L806.91,567.87 L811.91,567.63 L816.92,567.39 L821.93,567.16 L826.93,566.93 L831.94,566.71 L836.95,566.49 L841.95,566.28 L846.96,566.07 L851.97,565.87 L856.97,565.68 L861.98,565.49 L866.99,565.30 L871.99,565.12 L877.00,564.95" stroke="#03478b" stroke-width="4.6" fill="none" stroke-linecap="round"/>
<path d="M131.00,628.35 L136.01,627.95 L141.01,627.55 L146.02,627.15 L151.03,626.74 L156.03,626.34 L161.04,625.93 L166.05,625.52 L171.05,625.11 L176.06,624.70 L181.07,624.28 L186.07,623.87 L191.08,623.45 L196.09,623.04 L201.09,622.62 L206.10,622.20 L211.11,621.78 L216.11,621.35 L221.12,620.93 L226.13,620.51 L231.13,620.08 L236.14,619.66 L241.15,619.23 L246.15,618.81 L251.16,618.38 L256.17,617.95 L261.17,617.53 L266.18,617.10 L271.19,616.67 L276.19,616.24 L281.20,615.81 L286.21,615.38 L291.21,614.96 L296.22,614.53 L301.23,614.10 L306.23,613.67 L311.24,613.24 L316.25,612.82 L321.26,612.39 L326.26,611.96 L331.27,611.54 L336.28,611.11 L341.28,610.69 L346.29,610.26 L351.30,609.84 L356.30,609.42 L361.31,609.00 L366.32,608.58 L371.32,608.16 L376.33,607.74 L381.34,607.32 L386.34,606.91 L391.35,606.49 L396.36,606.08 L401.36,605.66 L406.37,605.25 L411.38,604.84 L416.38,604.43 L421.39,604.03 L426.40,603.62 L431.40,603.21 L436.41,602.81 L441.42,602.41 L446.42,602.01 L451.43,601.61 L456.44,601.21 L461.44,600.81 L466.45,600.41 L471.46,600.02 L476.46,599.63 L481.47,599.24 L486.48,598.85 L491.48,598.46 L496.49,598.08 L501.50,597.69 L506.50,597.31 L511.51,596.93 L516.52,596.55 L521.52,596.17 L526.53,595.80 L531.54,595.43 L536.54,595.06 L541.55,594.69 L546.56,594.32 L551.56,593.95 L556.57,593.59 L561.58,593.23 L566.58,592.87 L571.59,592.51 L576.60,592.16 L581.60,591.81 L586.61,591.46 L591.62,591.11 L596.62,590.76 L601.63,590.42 L606.64,590.08 L611.64,589.74 L616.65,589.40 L621.66,589.07 L626.66,588.74 L631.67,588.41 L636.68,588.08 L641.68,587.76 L646.69,587.43 L651.70,587.12 L656.70,586.80 L661.71,586.48 L666.72,586.17 L671.72,585.87 L676.73,585.56 L681.74,585.26 L686.74,584.96 L691.75,584.66 L696.76,584.36 L701.77,584.07 L706.77,583.78 L711.78,583.50 L716.79,583.22 L721.79,582.94 L726.80,582.66 L731.81,582.38 L736.81,582.11 L741.82,581.85 L746.83,581.58 L751.83,581.32 L756.84,581.06 L761.85,580.81 L766.85,580.56 L771.86,580.31 L776.87,580.06 L781.87,579.82 L786.88,579.58 L791.89,579.35 L796.89,579.11 L801.90,578.89 L806.91,578.66 L811.91,578.44 L816.92,578.22 L821.93,578.01 L826.93,577.80 L831.94,577.59 L836.95,577.39 L841.95,577.19 L846.96,576.99 L851.97,576.80 L856.97,576.61 L861.98,576.43 L866.99,576.24 L871.99,576.07 L877.00,575.89" stroke="#8ea6c2" stroke-width="1" fill="none"/>
<path d="M131.00,630.75 L136.01,630.35 L141.01,629.95 L146.02,629.55 L151.03,629.14 L156.03,628.74 L161.04,628.33 L166.05,627.92 L171.05,627.51 L176.06,627.10 L181.07,626.68 L186.07,626.27 L191.08,625.85 L196.09,625.44 L201.09,625.02 L206.10,624.60 L211.11,624.18 L216.11,623.75 L221.12,623.33 L226.13,622.91 L231.13,622.48 L236.14,622.06 L241.15,621.63 L246.15,621.21 L251.16,620.78 L256.17,620.35 L261.17,619.93 L266.18,619.50 L271.19,619.07 L276.19,618.64 L281.20,618.21 L286.21,617.78 L291.21,617.36 L296.22,616.93 L301.23,616.50 L306.23,616.07 L311.24,615.64 L316.25,615.22 L321.26,614.79 L326.26,614.36 L331.27,613.94 L336.28,613.51 L341.28,613.09 L346.29,612.66 L351.30,612.24 L356.30,611.82 L361.31,611.40 L366.32,610.98 L371.32,610.56 L376.33,610.14 L381.34,609.72 L386.34,609.31 L391.35,608.89 L396.36,608.48 L401.36,608.06 L406.37,607.65 L411.38,607.24 L416.38,606.83 L421.39,606.43 L426.40,606.02 L431.40,605.61 L436.41,605.21 L441.42,604.81 L446.42,604.41 L451.43,604.01 L456.44,603.61 L461.44,603.21 L466.45,602.81 L471.46,602.42 L476.46,602.03 L481.47,601.64 L486.48,601.25 L491.48,600.86 L496.49,600.48 L501.50,600.09 L506.50,599.71 L511.51,599.33 L516.52,598.95 L521.52,598.57 L526.53,598.20 L531.54,597.83 L536.54,597.46 L541.55,597.09 L546.56,596.72 L551.56,596.35 L556.57,595.99 L561.58,595.63 L566.58,595.27 L571.59,594.91 L576.60,594.56 L581.60,594.21 L586.61,593.86 L591.62,593.51 L596.62,593.16 L601.63,592.82 L606.64,592.48 L611.64,592.14 L616.65,591.80 L621.66,591.47 L626.66,591.14 L631.67,590.81 L636.68,590.48 L641.68,590.16 L646.69,589.83 L651.70,589.52 L656.70,589.20 L661.71,588.88 L666.72,588.57 L671.72,588.27 L676.73,587.96 L681.74,587.66 L686.74,587.36 L691.75,587.06 L696.76,586.76 L701.77,586.47 L706.77,586.18 L711.78,585.90 L716.79,585.62 L721.79,585.34 L726.80,585.06 L731.81,584.78 L736.81,584.51 L741.82,584.25 L746.83,583.98 L751.83,583.72 L756.84,583.46 L761.85,583.21 L766.85,582.96 L771.86,582.71 L776.87,582.46 L781.87,582.22 L786.88,581.98 L791.89,581.75 L796.89,581.51 L801.90,581.29 L806.91,581.06 L811.91,580.84 L816.92,580.62 L821.93,580.41 L826.93,580.20 L831.94,579.99 L836.95,579.79 L841.95,579.59 L846.96,579.39 L851.97,579.20 L856.97,579.01 L861.98,578.83 L866.99,578.64 L871.99,578.47 L877.00,578.29" stroke="#03478b" stroke-width="2.4" fill="none" stroke-linecap="round"/>
<circle cx="676.3" cy="576.1" r="6" fill="#ff0000"/>
<circle cx="676.3" cy="587.8" r="6" fill="#ff0000"/>
<circle cx="676.3" cy="655.8" r="6" fill="#ff0000"/>
<text x="750.41" y="553" class="t" style="fill:#1b5590" textLength="196.85" lengthAdjust="spacing">P1 (motor+freq.converter)</text>
<text x="864.31" y="591.5" class="t" style="fill:#1b5590" textLength="21.55" lengthAdjust="spacing">P2</text>
<rect x="55" y="520" width="904" height="1" fill="#000"/>
<rect x="54.4" y="520" width="1.6" height="168" fill="#000"/>
<rect x="54.4" y="687" width="904" height="1.3" fill="#000"/>
<rect x="958" y="520" width="2" height="168" fill="#000"/>
<path d="M48,687.8H55 M48,632.2H55 M48,576.7H55 M959,687.8H966 M959,660.0H966 M959,632.3H966 M959,604.5H966 M959,576.8H966 M959,549.0H966 M959,521.3H966" stroke="#000" stroke-width="1.6" fill="none"/>
<text x="42" y="692.1" class="t" text-anchor="end">0</text>
<text x="42" y="636.6" class="t" text-anchor="end">500</text>
<text x="42" y="581.0" class="t" text-anchor="end">1000</text>
<text x="971.5" y="692.1" class="t">0</text>
<text x="971.5" y="664.4" class="t">1</text>
<text x="971.5" y="636.6" class="t">2</text>
<text x="971.5" y="608.9" class="t">3</text>
<text x="971.5" y="581.1" class="t">4</text>
<text x="27.5" y="534.5" class="t" text-anchor="middle">P</text>
<text x="27.5" y="554.5" class="t" text-anchor="middle">[W]</text>
<text x="991" y="534.5" class="t" text-anchor="middle">NPSH</text>
<text x="990" y="554.5" class="t" text-anchor="middle">[m]</text>
</svg>
</body></html>
